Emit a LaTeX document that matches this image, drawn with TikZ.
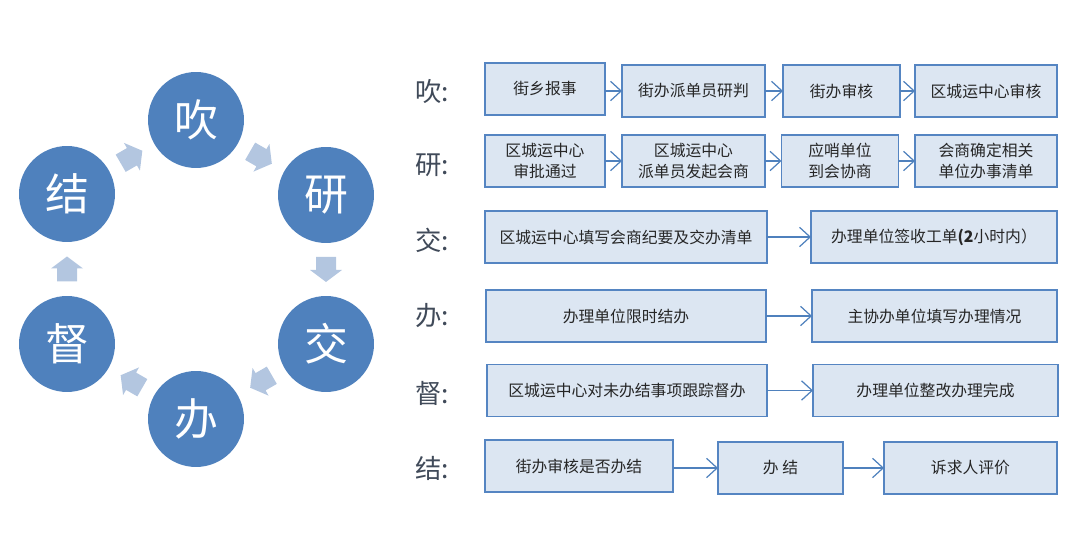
\documentclass[tikz,border=0pt]{standalone}
\usepackage{fontspec}
\setmainfont{Noto Sans CJK SC}
\usetikzlibrary{arrows.meta,calc}
\definecolor{circblue}{HTML}{4F81BD}
\definecolor{arrfill}{HTML}{B3C6E0}
\definecolor{boxfill}{HTML}{DCE6F2}
\definecolor{boxline}{HTML}{5585C2}
\definecolor{lblcol}{HTML}{404A59}
\definecolor{txtcol}{HTML}{262626}
\tikzset{
  circ/.style={circle, fill=circblue, minimum size=1.92cm, inner sep=0pt, text=white, font=\fontsize{25pt}{25pt}\selectfont},
  box/.style={draw=boxline, fill=boxfill, line width=0.9pt, minimum height=1.04cm, inner sep=0pt, outer sep=0pt, align=center, text=txtcol, font=\fontsize{9pt}{12pt}\selectfont},
  lbl/.style={anchor=west, text=lblcol, inner sep=0pt, font=\fontsize{15pt}{15pt}\selectfont},
  flow/.style={draw=circblue, line width=0.7pt, -{Straight Barb[length=6pt,width=11pt]}},
  blockarrow/.pic={\fill[arrfill] (-12.5,-10) -- (0.5,-10) -- (0.5,-16) -- (12.5,0) -- (0.5,16) -- (0.5,10) -- (-12.5,10) -- cycle;}
}
\begin{document}
\begin{tikzpicture}[x=0.02cm,y=-0.02cm]
\useasboundingbox (0,0) rectangle (1080,543);
% cycle
\node[circ] (c1) at (196,120) {吹};
\node[circ] (c2) at (326,195) {研};
\node[circ] (c3) at (326,344) {交};
\node[circ] (c4) at (196,419) {办};
\node[circ] (c5) at (67,344) {督};
\node[circ] (c6) at (67,194) {结};
\pic[rotate=30] at ($(c6)!0.5!(c1)$) {blockarrow};
\pic[rotate=-30] at ($(c1)!0.5!(c2)$) {blockarrow};
\pic[rotate=-90] at ($(c2)!0.5!(c3)$) {blockarrow};
\pic[rotate=-150] at ($(c3)!0.5!(c4)$) {blockarrow};
\pic[rotate=150] at ($(c4)!0.5!(c5)$) {blockarrow};
\pic[rotate=90] at ($(c5)!0.5!(c6)$) {blockarrow};
% labels
\node[lbl] (l1) at (415,92) {吹:};
\node[lbl] (l2) at (415,165) {研:};
\node[lbl] (l3) at (415,240) {交:};
\node[lbl] (l4) at (415,316) {办:};
\node[lbl] (l5) at (415,393) {督:};
\node[lbl] (l6) at (415,468) {结:};
% row 1
\node[box, minimum width=2.4cm] (b11) at (545,89) {街乡报事};
\node[box, minimum width=2.86cm] (b12) at (693.5,91) {街办派单员研判};
\node[box, minimum width=2.34cm] (b13) at (841.5,91) {街办审核};
\node[box, minimum width=2.84cm] (b14) at (986,91) {区城运中心审核};
% row 2
\node[box, minimum width=2.4cm] (b21) at (545,161) {区城运中心\\审批通过};
\node[box, minimum width=2.86cm] (b22) at (693.5,161) {区城运中心\\派单员发起会商};
\node[box, minimum width=2.34cm] (b23) at (840,161) {应哨单位\\到会协商};
\node[box, minimum width=2.84cm] (b24) at (986,161) {会商确定相关\\单位办事清单};
% row 3
\node[box, minimum width=5.64cm] (b31) at (626,237) {区城运中心填写会商纪要及交办清单};
\node[box, minimum width=4.92cm] (b32) at (934,237) {办理单位签收工单{\bfseries(2}小时内）};
% row 4
\node[box, minimum width=5.6cm] (b41) at (626,316) {办理单位限时结办};
\node[box, minimum width=4.9cm] (b42) at (934.5,316) {主协办单位填写办理情况};
% row 5
\node[box, minimum width=5.6cm] (b51) at (627,390.5) {区城运中心对未办结事项跟踪督办};
\node[box, minimum width=4.9cm] (b52) at (935.5,390.5) {办理单位整改办理完成};
% row 6
\node[box, minimum width=3.76cm] (b61) at (579,466) {街办审核是否办结};
\node[box, minimum width=2.5cm] (b62) at (780.5,468) {办 结};
\node[box, minimum width=3.46cm] (b63) at (970.5,468) {诉求人评价};
% connectors
\draw[flow] (b11.east |- b12.west) -- (b12.west);
\draw[flow] (b12) -- (b13);
\draw[flow] (b13) -- (b14);
\draw[flow] (b21) -- (b22);
\draw[flow] (b22) -- (b23);
\draw[flow] (b23) -- (b24);
\draw[flow] (b31) -- (b32);
\draw[flow] (b41) -- (b42);
\draw[flow] (b51) -- (b52);
\draw[flow] (b61.east |- b62.west) -- (b62.west);
\draw[flow] (b62) -- (b63);
\end{tikzpicture}
\end{document}
